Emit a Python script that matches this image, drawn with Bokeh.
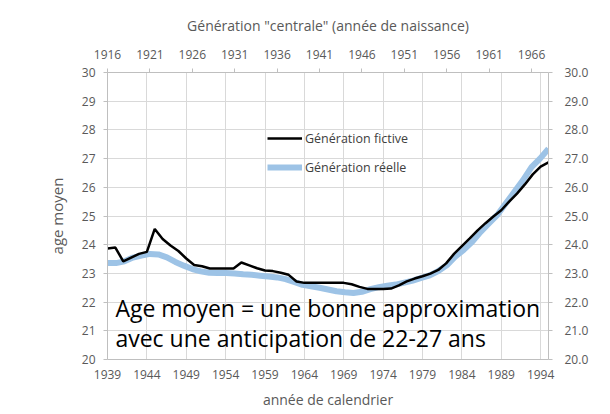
from bokeh.plotting import figure
from bokeh.models import (LinearAxis, Range1d, FixedTicker, Legend, LegendItem,
                          Label, NumeralTickFormatter)
from bokeh.embed import file_html
from bokeh.resources import INLINE

# ---- data ----
cal_years = list(range(1939, 1996))
fictive = [23.87, 23.90, 23.42, 23.55, 23.68, 23.75, 24.55, 24.20, 23.97, 23.78,
           23.52, 23.29, 23.25, 23.17, 23.17, 23.17, 23.17, 23.38, 23.28, 23.18,
           23.10, 23.08, 23.02, 22.95, 22.72, 22.67, 22.67, 22.67, 22.67, 22.67,
           22.67, 22.62, 22.53, 22.46, 22.46, 22.46, 22.47, 22.58, 22.72, 22.82,
           22.90, 22.99, 23.12, 23.35, 23.68, 23.95, 24.22, 24.50, 24.75, 24.98,
           25.20, 25.50, 25.78, 26.10, 26.45, 26.72, 26.87]
gen_years = list(range(1916, 1969))
reelle = [23.36, 23.36, 23.42, 23.55, 23.62, 23.68, 23.66, 23.56, 23.40, 23.27,
          23.15, 23.07, 23.02, 23.01, 23.01, 23.00, 22.97, 22.95, 22.92, 22.89,
          22.86, 22.80, 22.70, 22.60, 22.55, 22.50, 22.44, 22.38, 22.34, 22.32,
          22.36, 22.45, 22.52, 22.57, 22.61, 22.68, 22.75, 22.84, 22.93, 23.08,
          23.28, 23.58, 23.82, 24.10, 24.45, 24.75, 25.05, 25.45, 25.85, 26.25,
          26.70, 27.00, 27.34]
bottom_ticks = list(range(1939, 1995, 5))
top_ticks = list(range(1916, 1967, 5))
y_ticks = list(range(20, 31))

FONT = "Open Sans"
GREY = "#595959"

p = figure(width=600, height=414,
           min_border_left=107, min_border_top=72, min_border_right=52, min_border_bottom=55,
           x_range=Range1d(1939, 1995), y_range=Range1d(20, 30),
           output_backend="svg", toolbar_location=None,
           x_axis_location=None, y_axis_location=None)
p.extra_x_ranges = {"gen": Range1d(1916, 1968)}
p.outline_line_color = None

def style_axis(ax):
    ax.major_label_text_font = FONT
    ax.major_label_text_font_size = "12px"
    ax.major_label_text_color = GREY
    ax.axis_line_color = "#bfbfbf"
    ax.major_tick_line_color = "#bfbfbf"
    ax.minor_tick_line_color = None
    ax.major_tick_in = 0
    ax.axis_label_text_font = FONT
    ax.axis_label_text_font_size = "14px"
    ax.axis_label_text_color = GREY
    ax.axis_label_text_font_style = "normal"

xb = LinearAxis(ticker=FixedTicker(ticks=bottom_ticks), axis_label="année de calendrier")
style_axis(xb)
xb.major_tick_out = 0
xb.major_label_standoff = 10
xb.axis_label_standoff = 8
p.add_layout(xb, "below")

xt = LinearAxis(x_range_name="gen", ticker=FixedTicker(ticks=top_ticks),
                axis_label='Génération "centrale" (année de naissance)')
style_axis(xt)
xt.major_tick_out = 4
xt.major_label_standoff = 10
xt.axis_label_standoff = 12
p.add_layout(xt, "above")

yl = LinearAxis(ticker=FixedTicker(ticks=y_ticks), axis_label="age moyen")
style_axis(yl)
yl.axis_label_text_font_size = "15px"
yl.major_tick_out = 4
yl.major_label_standoff = 8
yl.axis_label_standoff = 12
p.add_layout(yl, "left")

yr = LinearAxis(ticker=FixedTicker(ticks=y_ticks), formatter=NumeralTickFormatter(format="0.0"))
style_axis(yr)
yr.major_tick_out = 4
yr.major_label_standoff = 12
p.add_layout(yr, "right")

p.xgrid.ticker = FixedTicker(ticks=bottom_ticks)
p.ygrid.ticker = FixedTicker(ticks=y_ticks)
p.xgrid.grid_line_color = "#d9d9d9"
p.ygrid.grid_line_color = "#d9d9d9"

r_reel = p.line(gen_years, reelle, x_range_name="gen", line_color="#9DC3E6", line_width=6)
r_fict = p.line(cal_years, fictive, line_color="black", line_width=2.5)

legend = Legend(items=[LegendItem(label="Génération fictive", renderers=[r_fict]),
                       LegendItem(label="Génération réelle", renderers=[r_reel])],
                location=(160, 182), orientation="vertical",
                glyph_width=35, glyph_height=20, label_height=20, spacing=9,
                label_standoff=3, padding=0, margin=0,
                border_line_color=None, background_fill_alpha=0,
                label_text_font=FONT, label_text_font_size="12.5px",
                label_text_color="#404040")
p.add_layout(legend, "center")

for txt, yv in [("Age moyen = une bonne approximation", 21.78),
                ("avec une anticipation de 22-27 ans", 20.74)]:
    p.add_layout(Label(x=1940.0, y=yv, text=txt, text_font=FONT,
                       text_font_size="23px", text_color="black",
                       text_baseline="alphabetic"))

open("out.html", "w").write(file_html(p, INLINE))
